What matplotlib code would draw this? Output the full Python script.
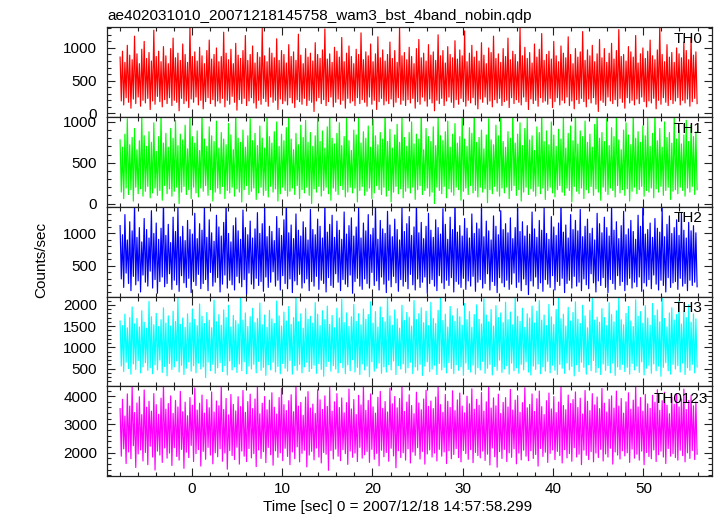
import numpy as np
import matplotlib.pyplot as plt
from matplotlib.ticker import MultipleLocator

plt.rcParams["font.family"] = ["Liberation Sans", "DejaVu Sans"]
plt.rcParams["font.size"] = 11

title = "ae402031010_20071218145758_wam3_bst_4band_nobin.qdp"
x_label = "Time [sec] 0 = 2007/12/18 14:57:58.299"
y_label = "Counts/sec"

# light curve span (sec from 2007/12/18 14:57:58.299)
t_start = -7.95
t_stop = 55.95

band_names = ["TH0", "TH1", "TH2", "TH3", "TH0123"]
band_colors = ["#ff0000", "#00ff00", "#0000ff", "#00ffff", "#ff00ff"]
band_ylims = [(-55, 1315), (-40, 1060), (30, 1410), (85, 2195), (1180, 4350)]
band_major = [500, 500, 500, 500, 1000]
band_minor = [100, 100, 100, 100, 200]

# counts/sec (roughly, the curves are very dense)
th0 = [
    860, 190, 950, 130, 780, 240, 1040, 170, 890, 80, 820, 220, 1180, 150, 910, 250, 760, 110, 980, 200,
    1100, 160, 840, 230, 930, 60, 800, 190, 1270, 140, 870, 260, 950, 180, 790, 100, 1020, 210, 880, 150,
    760, 240, 990, 120, 1150, 200, 850, 170, 920, 40, 810, 230, 1060, 150, 900, 190, 780, 90, 1330, 220,
    870, 170, 940, 250, 800, 130, 1010, 200, 880, 70, 760, 180, 960, 240, 1120, 150, 830, 210, 900, 110,
    1000, 190, 790, 160, 870, 230, 1240, 100, 920, 200, 820, 140, 980, 260, 760, 170, 1070, 50, 890, 210,
    840, 150, 960, 230, 1190, 120, 810, 190, 900, 240, 1030, 160, 770, 80, 930, 200, 860, 140, 1300, 230,
    880, 180, 790, 110, 1000, 250, 920, 170, 850, 200, 1140, 60, 810, 220, 960, 150, 900, 190, 770, 130,
    1050, 240, 870, 160, 940, 90, 810, 210, 1210, 180, 890, 140, 760, 230, 990, 120, 860, 200, 920, 170,
    800, 30, 1080, 190, 900, 240, 840, 150, 970, 210, 1290, 120, 830, 180, 910, 250, 780, 100, 1010, 170,
    950, 220, 860, 140, 1160, 200, 790, 80, 920, 230, 1030, 160, 870, 190, 760, 120, 980, 240, 900, 150,
    1230, 210, 820, 170, 940, 110, 880, 250, 1060, 140, 790, 200, 910, 60, 1170, 180, 850, 230, 970, 130,
    800, 190, 900, 150, 1090, 220, 840, 100, 960, 170, 780, 240, 1320, 140, 880, 200, 930, 120, 820, 210,
    1010, 160, 870, 230, 760, 80, 990, 180, 1130, 140, 850, 250, 920, 190, 800, 110, 1050, 220, 890, 160,
    940, 40, 810, 200, 1200, 150, 880, 230, 960, 120, 770, 190, 1020, 250, 900, 170, 850, 90, 1110, 210,
    830, 140, 970, 230, 880, 180, 1260, 110, 790, 200, 920, 160, 1040, 240, 860, 130, 950, 70, 800, 220,
    1080, 170, 890, 250, 760, 140, 1000, 190, 930, 100, 1180, 210, 840, 160, 910, 230, 780, 120, 990, 180,
    870, 200, 1150, 90, 820, 240, 950, 150, 900, 210, 790, 170, 1310, 130, 880, 250, 1010, 180, 840, 60,
    930, 220, 770, 150, 1060, 200, 860, 110, 980, 240, 1220, 170, 810, 190, 900, 140, 950, 230, 830, 90,
    1100, 180, 880, 240, 790, 130, 1030, 200, 920, 160, 850, 250, 1170, 120, 900, 190, 760, 70, 990, 210,
    860, 150, 940, 230, 1250, 180, 810, 100, 970, 220, 880, 160, 1040, 240, 790, 140, 910, 30, 1130, 200,
    850, 170, 990, 120, 780, 250, 920, 190, 1070, 150, 830, 210, 960, 110, 1280, 230, 870, 170, 900, 80,
    800, 240, 1020, 160, 940, 200, 860, 130, 1190, 220, 770, 150, 910, 250, 1000, 180, 840, 100, 950, 190,
    1120, 160, 880, 230, 820, 70, 970, 200, 1340, 140, 900, 240, 790, 170, 1050, 120, 860, 210, 930, 150,
    780, 190, 1000, 240, 910, 130, 850, 200, 1090, 160, 960, 220, 820, 110, 1160, 180, 890, 230, 940, 150,
]
th1 = [
    780, 140, 690, 60, 850, 190, 1040, 110, 720, 170, 810, 30, 920, 200, 660, 120, 770, 180, 1080, 90,
    830, 150, 700, 210, 880, 70, 750, 130, 990, 190, 640, 100, 820, 160, 1100, 40, 740, 220, 860, 120,
    690, 180, 920, 90, 800, 150, 1020, 200, 710, 0, 850, 140, 780, 210, 960, 110, 670, 170, 1060, 60,
    820, 200, 740, 130, 890, 80, 650, 190, 1120, 150, 790, 220, 700, 100, 940, 170, 830, 30, 760, 140,
    1010, 190, 680, 120, 870, 210, 790, 60, 720, 160, 980, 130, 840, 200, 660, 90, 1150, 180, 800, 140,
    750, 20, 900, 170, 690, 220, 830, 110, 1040, 150, 770, 190, 860, 50, 710, 130, 950, 200, 800, 100,
    680, 160, 1090, 80, 820, 210, 740, 140, 880, 180, 1000, 30, 700, 120, 850, 200, 770, 160, 930, 90,
    1130, 150, 790, 190, 660, 110, 860, 220, 720, 60, 960, 170, 810, 130, 1020, 200, 750, 100, 870, 0,
    700, 180, 830, 140, 1070, 210, 760, 90, 890, 160, 680, 200, 940, 120, 1160, 40, 800, 190, 730, 150,
    860, 110, 990, 220, 710, 170, 820, 80, 1050, 140, 770, 200, 650, 130, 900, 190, 840, 20, 1110, 160,
    740, 210, 880, 100, 800, 150, 950, 190, 690, 60, 1030, 130, 830, 220, 720, 170, 870, 110, 790, 200,
    1180, 90, 760, 160, 910, 20, 680, 140, 840, 210, 970, 120, 750, 180, 1080, 70, 810, 150, 700, 190,
    870, 130, 1000, 200, 730, 50, 850, 170, 790, 220, 1140, 110, 660, 160, 920, 190, 820, 90, 760, 140,
    940, 0, 710, 200, 1060, 160, 830, 120, 770, 210, 880, 70, 1010, 180, 690, 140, 850, 100, 980, 200,
    740, 170, 820, 40, 1100, 150, 790, 190, 700, 110, 930, 220, 860, 130, 1170, 160, 750, 80, 810, 200,
    900, 140, 670, 180, 840, 10, 1040, 170, 780, 120, 720, 210, 960, 150, 830, 90, 1090, 190, 760, 130,
    690, 200, 880, 60, 800, 160, 1150, 220, 740, 100, 850, 170, 990, 30, 710, 140, 920, 200, 1060, 110,
    780, 180, 830, 150, 650, 90, 940, 210, 870, 120, 1120, 190, 760, 50, 890, 160, 720, 200, 1000, 130,
    840, 80, 700, 170, 910, 220, 790, 140, 1070, 100, 680, 190, 860, 160, 950, 20, 770, 210, 1130, 150,
    730, 120, 890, 190, 820, 60, 1010, 170, 750, 130, 850, 210, 690, 100, 970, 180, 1160, 140, 800, 40,
    870, 200, 760, 150, 1040, 110, 710, 190, 930, 160, 820, 80, 1090, 220, 780, 130, 660, 170, 900, 100,
    990, 180, 840, 30, 720, 150, 1110, 200, 800, 120, 880, 170, 750, 210, 950, 90, 830, 160, 1050, 140,
    700, 190, 860, 70, 1140, 180, 770, 140, 920, 210, 690, 100, 1000, 160, 810, 200, 870, 50, 740, 150,
    1080, 170, 790, 120, 900, 200, 730, 160, 840, 90, 1020, 190, 760, 140, 960, 210, 820, 110, 880, 170,
]
th2 = [
    1120, 300, 980, 170, 1290, 390, 900, 230, 1180, 120, 1040, 340, 1470, 210, 940, 270, 1090, 100, 870, 360,
    1230, 250, 1060, 190, 930, 420, 1350, 160, 1000, 290, 1160, 80, 910, 260, 1080, 330, 1520, 180, 970, 230,
    1140, 380, 860, 140, 1250, 280, 1030, 210, 1400, 110, 950, 350, 1110, 240, 890, 170, 1200, 310, 1060, 90,
    990, 260, 1310, 200, 920, 370, 1150, 150, 1050, 230, 1440, 290, 940, 120, 1210, 400, 1010, 190, 880, 250,
    1280, 320, 1100, 100, 960, 220, 1170, 360, 1500, 160, 1000, 280, 870, 210, 1120, 130, 1240, 340, 1040, 240,
    910, 180, 1360, 290, 1090, 70, 980, 390, 1190, 220, 930, 150, 1070, 310, 1320, 200, 1000, 260, 1150, 110,
    1430, 330, 950, 170, 1110, 250, 1030, 410, 890, 190, 1260, 280, 1080, 130, 970, 350, 1210, 230, 1540, 150,
    1010, 300, 1130, 90, 920, 270, 1300, 210, 1050, 370, 960, 160, 1180, 240, 1090, 300, 900, 120, 1370, 260,
    1060, 190, 980, 340, 1220, 140, 1110, 280, 930, 230, 1470, 100, 1020, 320, 1140, 200, 1280, 170, 940, 380,
    1190, 250, 1050, 120, 910, 290, 1330, 220, 990, 180, 1120, 360, 1240, 80, 960, 260, 1100, 310, 1410, 190,
    930, 140, 1160, 300, 1040, 230, 1290, 160, 980, 400, 1080, 200, 1450, 270, 910, 130, 1200, 330, 1070, 220,
    1000, 90, 1340, 280, 1130, 180, 950, 340, 1220, 240, 1060, 110, 900, 290, 1390, 190, 1030, 260, 1150, 150,
    1260, 370, 970, 210, 1100, 130, 1500, 300, 1010, 170, 1170, 250, 920, 330, 1110, 80, 1310, 230, 1050, 290,
    940, 190, 1210, 120, 1090, 350, 990, 240, 1380, 150, 1140, 280, 910, 200, 1250, 320, 1060, 100, 1530, 260,
    1020, 220, 1120, 170, 960, 310, 1230, 140, 1080, 270, 930, 190, 1300, 340, 1000, 110, 1160, 250, 1070, 290,
    1420, 160, 950, 230, 1190, 380, 1040, 130, 900, 260, 1270, 200, 1110, 90, 980, 320, 1350, 240, 1060, 180,
    1150, 280, 1010, 140, 1240, 220, 920, 390, 1090, 170, 1460, 250, 1030, 120, 1180, 300, 960, 210, 1120, 60,
    990, 270, 1330, 190, 1070, 330, 940, 150, 1200, 240, 1050, 110, 1390, 290, 1000, 220, 910, 170, 1260, 350,
    1100, 130, 970, 260, 1160, 200, 1480, 310, 1020, 90, 1130, 230, 930, 280, 1290, 160, 1060, 340, 1200, 190,
    1040, 250, 1370, 120, 950, 300, 1110, 210, 1220, 150, 1000, 380, 1080, 240, 900, 100, 1310, 270, 1150, 200,
    1010, 320, 1250, 170, 1090, 90, 960, 290, 1430, 230, 1050, 140, 1180, 350, 920, 200, 1120, 260, 1340, 120,
    980, 210, 1070, 310, 1200, 160, 1030, 250, 910, 180, 1280, 330, 1110, 110, 1500, 240, 990, 190, 1060, 290,
    1160, 150, 940, 360, 1230, 220, 1080, 130, 1020, 280, 1390, 200, 950, 100, 1140, 320, 1270, 170, 1000, 240,
    1090, 260, 1210, 140, 970, 310, 1320, 190, 1050, 230, 930, 120, 1170, 280, 1040, 200, 1120, 250, 1010, 180,
]
th3 = [
    1620, 560, 1510, 430, 1780, 650, 1460, 500, 1700, 370, 1950, 610, 1550, 480, 1680, 690, 1480, 400, 1860, 540,
    1590, 640, 1450, 460, 2080, 520, 1720, 380, 1530, 590, 1800, 470, 1490, 700, 1650, 410, 1930, 550, 1570, 330,
    1740, 620, 1500, 480, 1850, 540, 1610, 680, 2160, 420, 1540, 580, 1690, 360, 1470, 510, 1790, 660, 1580, 440,
    1900, 570, 1660, 400, 1510, 630, 2020, 490, 1730, 540, 1560, 290, 1820, 650, 1640, 450, 1460, 600, 2110, 390,
    1600, 520, 1770, 640, 1520, 430, 1880, 570, 1700, 350, 1990, 680, 1480, 470, 1750, 540, 1630, 410, 1550, 610,
    2200, 450, 1640, 660, 1810, 380, 1490, 560, 1720, 490, 1920, 600, 1580, 400, 1680, 670, 2040, 460, 1530, 530,
    1760, 340, 1470, 590, 1870, 470, 1670, 650, 1560, 420, 2090, 550, 1740, 380, 1500, 620, 1830, 510, 1620, 440,
    1960, 690, 1540, 370, 1700, 570, 2240, 460, 1600, 600, 1790, 400, 1450, 540, 1910, 650, 1660, 430, 1730, 500,
    1570, 580, 2050, 390, 1780, 620, 1510, 480, 1860, 320, 1650, 550, 1970, 670, 1540, 440, 1750, 570, 1460, 490,
    1920, 400, 1690, 640, 2130, 520, 1580, 380, 1810, 590, 1490, 450, 1720, 710, 2010, 420, 1610, 530, 1790, 360,
    1530, 610, 1900, 470, 1660, 560, 1770, 310, 2070, 660, 1570, 440, 1840, 510, 1480, 630, 1950, 390, 1700, 540,
    1600, 420, 2180, 590, 1740, 470, 1520, 680, 1880, 360, 1670, 570, 1450, 490, 1990, 610, 1630, 400, 1820, 520,
    1710, 650, 1500, 380, 2100, 540, 1650, 460, 1790, 600, 1930, 340, 1580, 560, 1850, 660, 1510, 430, 2060, 490,
    1680, 580, 1560, 360, 1870, 620, 2220, 470, 1630, 530, 1780, 400, 1480, 640, 1960, 500, 1740, 380, 1610, 590,
    1910, 460, 1720, 540, 1520, 340, 2030, 630, 1650, 480, 1840, 420, 1470, 580, 1770, 370, 2000, 520, 1660, 470,
    1550, 670, 2140, 390, 1760, 510, 1600, 600, 1890, 350, 1500, 550, 1980, 460, 1700, 700, 1810, 410, 1580, 490,
    2060, 570, 1650, 370, 1830, 630, 1530, 450, 2190, 520, 1730, 390, 1610, 600, 1920, 470, 1470, 660, 1790, 420,
    1690, 350, 1970, 560, 1570, 480, 1850, 610, 2100, 380, 1640, 540, 1760, 440, 1510, 670, 2010, 400, 1720, 580,
    1540, 460, 1890, 360, 2230, 600, 1670, 510, 1780, 390, 1500, 630, 1940, 470, 1620, 550, 1820, 330, 2070, 590,
    1660, 430, 1560, 650, 1990, 530, 1740, 370, 1460, 590, 1870, 450, 2150, 690, 1640, 410, 1710, 520, 1590, 360,
    1910, 610, 1700, 460, 1510, 570, 2050, 400, 1770, 630, 1600, 340, 1860, 540, 2180, 480, 1650, 600, 1530, 430,
    1800, 530, 1960, 370, 1620, 620, 1490, 470, 2120, 560, 1730, 410, 1840, 660, 1570, 350, 1980, 510, 1690, 580,
    1520, 390, 2030, 610, 1750, 450, 1880, 560, 1600, 320, 2170, 530, 1680, 640, 1480, 450, 1810, 370, 1930, 600,
    1640, 490, 1770, 570, 2090, 420, 1550, 630, 1860, 360, 1700, 520, 2000, 460, 1590, 600, 1790, 400, 1670, 540,
]
th0123 = [
    3560, 1880, 3890, 2140, 3300, 1620, 4080, 2030, 3650, 1790, 4370, 2250, 3420, 1480, 3760, 1960, 3980, 2100, 3350, 1710,
    4220, 2010, 3610, 1580, 3820, 2230, 3470, 1850, 4090, 1390, 3700, 2060, 3360, 1920, 3930, 1660, 4410, 2170, 3540, 1810,
    3740, 1990, 4010, 1550, 3390, 2180, 3850, 1870, 3620, 1740, 4170, 2120, 3450, 1450, 3790, 2020, 3310, 1830, 3950, 2260,
    3680, 1690, 4290, 1970, 3510, 2110, 3750, 1530, 4040, 2050, 3400, 1770, 3880, 2190, 3590, 1920, 4150, 1610, 3440, 2000,
    3830, 1860, 3660, 2140, 4390, 1700, 3530, 1990, 3920, 1420, 3340, 2080, 4060, 1900, 3710, 1760, 3480, 2200, 3980, 1600,
    3630, 2060, 4200, 1880, 3430, 1690, 3810, 2150, 4070, 1820, 3560, 1970, 3900, 1510, 4340, 2100, 3380, 1800, 3750, 2040,
    3990, 1650, 3520, 2190, 3860, 1930, 4120, 1560, 3610, 2070, 3370, 1840, 3950, 2000, 4270, 1720, 3700, 2160, 3490, 1870,
    3840, 1580, 4050, 2030, 3450, 1790, 4400, 2210, 3650, 1680, 3780, 1980, 3320, 2090, 3970, 1500, 4160, 1920, 3580, 2050,
    3720, 1750, 3390, 2170, 4230, 1850, 3870, 1640, 3530, 2010, 4010, 1950, 3640, 1380, 4310, 2080, 3470, 1780, 3800, 2130,
    4090, 1880, 3600, 1720, 3940, 2110, 3410, 1970, 3770, 1590, 4250, 2060, 3550, 1840, 3880, 1990, 3350, 1690, 4030, 2190,
    3690, 1810, 4380, 1930, 3500, 2050, 3850, 1660, 4080, 2120, 3620, 1770, 3400, 1980, 3960, 1540, 4170, 2090, 3570, 1860,
    3810, 2010, 3440, 1700, 4280, 2160, 3730, 1890, 3990, 1470, 3590, 2070, 3920, 1830, 4350, 2000, 3460, 1740, 3790, 2140,
    4050, 1640, 3670, 2030, 3380, 1910, 4140, 2180, 3760, 1780, 3520, 2050, 3900, 1600, 4210, 1960, 3640, 2100, 3830, 1850,
    3560, 1990, 3970, 1710, 4320, 2120, 3700, 1880, 3430, 2030, 4060, 1620, 3820, 2070, 3600, 1790, 4190, 1940, 3490, 2150,
    3870, 1830, 4110, 1680, 3650, 2080, 3410, 1970, 4000, 1770, 3730, 2110, 4260, 1650, 3540, 2010, 3890, 1900, 3680, 1820,
    4130, 2060, 3470, 1730, 3800, 1950, 4360, 1570, 3580, 2170, 3940, 1860, 3660, 1490, 4070, 2040, 3390, 1800, 3780, 2120,
    3950, 1690, 3620, 2000, 4240, 1840, 3510, 2140, 3860, 1610, 4020, 1990, 3430, 1750, 3770, 2090, 4300, 1880, 3590, 1720,
    3710, 2070, 4080, 1800, 3460, 1940, 3910, 1530, 4180, 2150, 3630, 1870, 3350, 2020, 3840, 1660, 4110, 1980, 3550, 2100,
    3990, 1760, 3420, 2050, 3790, 1900, 4330, 1640, 3670, 2110, 3520, 1820, 4040, 1970, 3740, 1700, 3880, 2180, 4150, 1850,
    3600, 1950, 3930, 1580, 3370, 2090, 4200, 1910, 3820, 1760, 3490, 2040, 4090, 1680, 3690, 1990, 3970, 1830, 3560, 2120,
    4270, 1710, 3750, 1960, 3440, 1850, 3890, 2160, 4010, 1600, 3580, 2030, 4180, 1920, 3650, 1780, 3920, 2070, 3400, 1890,
    3800, 2000, 4120, 1660, 3540, 2130, 3860, 1810, 4390, 1950, 3620, 1740, 3950, 2060, 3470, 1580, 4060, 2010, 3730, 1870,
    3570, 1790, 4030, 2100, 3780, 1690, 4230, 1930, 3500, 2060, 3840, 1850, 4140, 1620, 3680, 2150, 3380, 1880, 3960, 1970,
    3710, 1830, 4080, 1740, 3620, 2090, 3900, 1900, 4250, 1680, 3530, 2000, 3850, 1800, 4020, 2080, 3660, 1760, 3800, 1950,
]
band_values = [th0, th1, th2, th3, th0123]

# layout in pixels of the 717x516 picture
W, H = 717, 516
ax_left, ax_right = 107, 712
ax_top, ax_bottom = 27.3, 476
panel_h = (ax_bottom - ax_top) / len(band_names)
# where the band name sits: (px left of right spine, px below top spine)
label_offsets = [(9, 4.5), (9, 4.5), (9, 4.5), (9, 4.5), (4, 5.5)]
pt = 72 / 100

fig = plt.figure(figsize=(W / 100, H / 100), dpi=100)
axes = []
for i, (name, color, values, ylim, major, minor) in enumerate(
    zip(band_names, band_colors, band_values, band_ylims, band_major, band_minor)
):
    top = ax_top + i * panel_h
    rect = [ax_left / W, 1 - (top + panel_h) / H, (ax_right - ax_left) / W, panel_h / H]
    ax = fig.add_axes(rect, sharex=axes[0] if axes else None)
    t = np.linspace(t_start, t_stop, len(values))
    ax.plot(t, values, color=color, lw=0.85)
    ax.set_ylim(*ylim)
    ax.yaxis.set_major_locator(MultipleLocator(major))
    ax.yaxis.set_minor_locator(MultipleLocator(minor))
    ax.xaxis.set_major_locator(MultipleLocator(10))
    ax.xaxis.set_minor_locator(MultipleLocator(2))
    ax.tick_params(which="both", direction="in", top=True, right=True,
                   colors="#222222", width=0.8, labelcolor="black", labelsize=11)
    ax.tick_params(which="major", length=6)
    ax.tick_params(which="minor", length=3)
    ax.tick_params(axis="y", pad=7)
    ax.tick_params(axis="x", pad=4)
    if i < len(band_names) - 1:
        ax.tick_params(labelbottom=False)
    for sp in ax.spines.values():
        sp.set_color("#222222")
        sp.set_linewidth(0.9)
    dx, dy = label_offsets[i]
    ax.annotate(name, xy=(1, 1), xycoords="axes fraction",
                xytext=(-dx * pt, -dy * pt), textcoords="offset points",
                ha="right", va="top", fontsize=11)
    axes.append(ax)

axes[0].set_xlim(-9.4, 57.6)

fig.text(ax_left / W, 1 - 20 / H, title, ha="left", va="baseline", fontsize=11)
fig.text(397.5 / W, 1 - 511 / H, x_label, ha="center", va="baseline", fontsize=11)
fig.text(41 / W, 1 - 260 / H, y_label, rotation=90, ha="center", va="center", fontsize=11)

fig.savefig("out.png", dpi=100)
